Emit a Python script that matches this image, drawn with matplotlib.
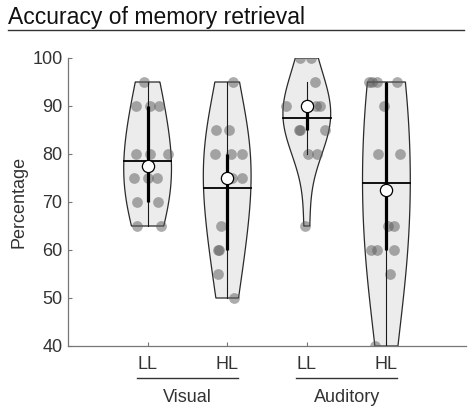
import numpy as np
import matplotlib.pyplot as plt
from matplotlib.lines import Line2D

plt.rcParams['font.family'] = ['Liberation Sans', 'DejaVu Sans']

# data (percent correct per participant)
conditions = ['LL', 'HL', 'LL', 'HL']
groups = ['Visual', 'Auditory']

visual_ll = [95, 90, 90, 90, 80, 80, 80, 75, 75, 75, 70, 70, 65, 65]
visual_hl = [95, 85, 85, 80, 80, 80, 75, 75, 75, 65, 60, 60, 55, 50]
auditory_ll = [100, 100, 95, 90, 90, 90, 90, 90, 85, 85, 85, 80, 80, 65]
auditory_hl = [95, 95, 95, 95, 90, 80, 80, 65, 65, 60, 60, 60, 55, 40]

# horizontal jitter of the dots (fraction of category spacing)
visual_ll_jit = [-0.05, -0.14, 0.03, 0.14, -0.14, 0.03, 0.25, -0.17, 0.0, 0.12, -0.13, 0.13, -0.13, 0.17]
visual_hl_jit = [0.07, -0.14, 0.02, -0.15, 0.05, 0.19, 0.0, 0.06, 0.19, -0.08, -0.10, -0.12, -0.11, 0.09]
auditory_ll_jit = [-0.09, 0.05, 0.10, -0.26, -0.01, 0.02, 0.12, 0.17, -0.10, -0.08, 0.23, 0.01, 0.13, -0.02]
auditory_hl_jit = [-0.22, -0.18, -0.12, 0.13, -0.03, -0.10, 0.17, 0.02, 0.09, -0.19, -0.12, 0.10, 0.04, -0.14]

all_data = [visual_ll, visual_hl, auditory_ll, auditory_hl]
all_jit = [visual_ll_jit, visual_hl_jit, auditory_ll_jit, auditory_hl_jit]

WIDTH = 0.3
BW_SCALE = 1.4
TXT = '#333333'


def density(vals, grid):
    # gaussian kde, normal-reference bandwidth from the MAD
    v = np.asarray(vals, float)
    mad = np.median(np.abs(v - np.median(v)))
    bw = BW_SCALE * mad / 0.6745 * (4 / (3 * len(v))) ** 0.2
    d = np.exp(-0.5 * ((grid[:, None] - v[None, :]) / bw) ** 2).sum(axis=1)
    return d


fig = plt.figure(figsize=(4.74, 4.13), dpi=100)
ax = fig.add_axes([68 / 474, 67 / 413, 398 / 474, 288 / 413])

for i, (vals, jit) in enumerate(zip(all_data, all_jit)):
    pos = i + 1
    v = np.asarray(vals, float)
    grid = np.linspace(v.min(), v.max(), 200)
    d = density(v, grid)
    w = d / d.max() * WIDTH

    # violin body
    xs = np.concatenate([pos - w, (pos + w)[::-1]])
    ys = np.concatenate([grid, grid[::-1]])
    ax.fill(xs, ys, facecolor='#ececec', edgecolor='#2a2a2a', lw=0.9, zorder=1)

    # dots
    ax.scatter(pos + np.asarray(jit), v, s=60, color='#5a5a5a', alpha=0.5,
               lw=0, zorder=2)

    q1, med, q3 = np.quantile(v, [0.25, 0.5, 0.75], method='hazen')
    iqr = q3 - q1
    lo = v[v >= q1 - 1.5 * iqr].min()
    hi = v[v <= q3 + 1.5 * iqr].max()
    mean = v.mean()
    mw = np.interp(mean, grid, w)

    ax.plot([pos, pos], [lo, hi], color='#1a1a1a', lw=0.8, zorder=3)
    ax.plot([pos, pos], [q1, q3], color='black', lw=2.3, solid_capstyle='butt', zorder=3)
    ax.plot([pos - mw, pos + mw], [mean, mean], color='black', lw=1.3, zorder=3)
    ax.plot(pos, med, 'o', ms=8.8, mfc='white', mec='black', mew=0.9, zorder=4)

ax.set_xlim(0, 5)
ax.set_ylim(40, 100)
ax.set_yticks([40, 50, 60, 70, 80, 90, 100])
ax.set_xticks([1, 2, 3, 4])
ax.set_xticklabels(conditions)
ax.tick_params(direction='in', length=3, width=0.8, color='#777777',
               labelsize=13, labelcolor=TXT)
ax.tick_params(axis='x', pad=7)
ax.tick_params(axis='y', pad=4)
for s in ['top', 'right']:
    ax.spines[s].set_visible(False)
for s in ['left', 'bottom']:
    ax.spines[s].set_color('#777777')
    ax.spines[s].set_linewidth(0.9)
ax.set_ylabel('Percentage', fontsize=13, color=TXT, labelpad=3.5)

# group brackets under the condition labels
tr = ax.get_xaxis_transform()
for g, (a, b) in zip(groups, [(1, 2), (3, 4)]):
    ax.plot([a - 0.13, b + 0.13], [-0.111, -0.111], transform=tr, clip_on=False,
            color=TXT, lw=1.0)
    ax.text((a + b) / 2, -0.178, g, transform=tr, ha='center', va='center',
            fontsize=13, color=TXT)

# panel title with rule underneath
fig.text(8 / 474, 1 - 24 / 413, 'Accuracy of memory retrieval', ha='left', va='baseline',
         fontsize=16.5, color='#111111')
fig.add_artist(Line2D([8 / 474, 464 / 474], [1 - 29.5 / 413, 1 - 29.5 / 413],
                      transform=fig.transFigure, color='#333333', lw=1.0))

fig.savefig('out.png', dpi=100)
